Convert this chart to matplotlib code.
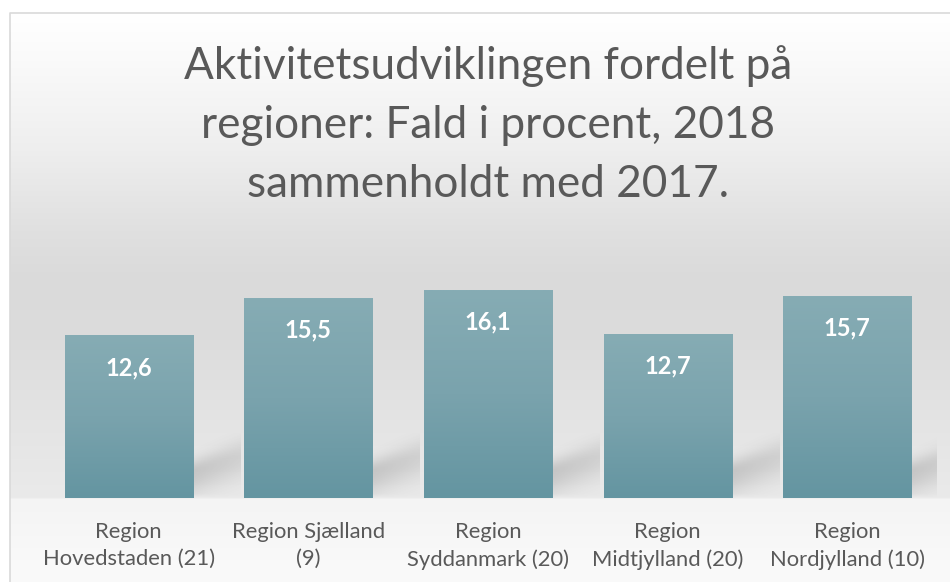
import numpy as np
import matplotlib
matplotlib.use("Agg")
import matplotlib.pyplot as plt
from matplotlib.colors import LinearSegmentedColormap

# data
regions = ["Region\nHovedstaden (21)", "Region Sjælland\n(9)", "Region\nSyddanmark (20)",
           "Region\nMidtjylland (20)", "Region\nNordjylland (10)"]
values = [12.6, 15.5, 16.1, 12.7, 15.7]
value_labels = ["12,6", "15,5", "16,1", "12,7", "15,7"]
title_lines = ["Aktivitetsudviklingen fordelt på", "regioner: Fald i procent, 2018",
               "sammenholdt med 2017."]

W, H = 950, 582
plt.rcParams['font.family'] = ['Lato', 'DejaVu Sans']
fig = plt.figure(figsize=(W / 100, H / 100), dpi=100)

# baggrund (lodret gradient)
bg = fig.add_axes([0, 0, 1, 1], zorder=-5)
ys = np.arange(H)
stops_y = [0, 13, 60, 150, 230, 280, 340, 420, 497, 499, 560, 582]
stops_g = [255, 255, 250, 238, 224, 218, 220, 228, 234, 244, 249, 250]
gray = np.interp(ys, stops_y, stops_g) / 255.0
img = np.ones((H, W, 3))
img[:, :, :] = gray[:, None, None]
img[:13, :, :] = 1.0
img[:, :10, :] = 1.0
bg.imshow(img, extent=[0, W, H, 0], aspect='auto', interpolation='bilinear')
bg.plot([10, 10, W], [H, 13, 13], color='#d9d9d9', lw=1.2)
bg.set_xlim(0, W)
bg.set_ylim(H, 0)
bg.axis('off')

# plotområde
ymax = 18
px_per_unit = 12.86
ax_h = ymax * px_per_unit
ax = fig.add_axes([39 / W, 84 / H, 898 / W, ax_h / H])
ax.patch.set_alpha(0)
x = np.arange(len(values))
bw = 0.713
bars = ax.bar(x, values, width=bw, color='#769fa9', zorder=3)

# gradient i søjlerne
cmap = LinearSegmentedColormap.from_list('bar', ['#6495a1', '#7aa3ad', '#86acb4'])
grad = np.linspace(0, 1, 200)[:, None]
for b in bars:
    x0, y0 = b.get_x(), b.get_y()
    ax.imshow(grad, cmap=cmap, origin='lower', aspect='auto', zorder=4,
              extent=[x0, x0 + b.get_width(), y0, y0 + b.get_height()])

# skygger
sw = 0.265
sh = 5.0
nx, ny = 80, 150
u = np.linspace(0, 1, nx)[None, :]
v = np.linspace(0, sh, ny)[:, None] * px_per_unit
c = 26 + 15 * u
s = np.where(v < c, 16.0, 8.0 + 3 * u)
alpha = 0.2 * (1 - 0.35 * u) * np.exp(-0.5 * ((v - c) / s) ** 2)
alpha *= np.clip(v / 4.0, 0, 1)
shadow = np.zeros((ny, nx, 4))
shadow[..., :3] = 0.25
shadow[..., 3] = alpha
for b in bars:
    xr = b.get_x() + b.get_width()
    ax.imshow(shadow, origin='lower', aspect='auto', zorder=2, interpolation='bilinear',
              extent=[xr, xr + sw, 0, sh])

# værdier
for xi, val, lab in zip(x, values, value_labels):
    ax.text(xi, val - 3.03, lab, ha='center', va='baseline', color='white',
            fontsize=17, fontweight='bold', zorder=6)

ax.set_xlim(-0.5, len(values) - 0.5)
ax.set_ylim(0, ymax)
ax.set_xticks(x)
ax.set_xticklabels(regions, fontsize=15.8, color='#595959', linespacing=1.45)
ax.tick_params(axis='x', length=0, pad=17)
ax.set_yticks([])
for sp in ax.spines.values():
    sp.set_visible(False)

# titel
for i, line in enumerate(title_lines):
    fig.text(488 / W, 1 - (79 + 59 * i) / H, line, ha='center', va='baseline',
             fontsize=31.8, color='#595959')

plt.savefig("out.png", dpi=100)
